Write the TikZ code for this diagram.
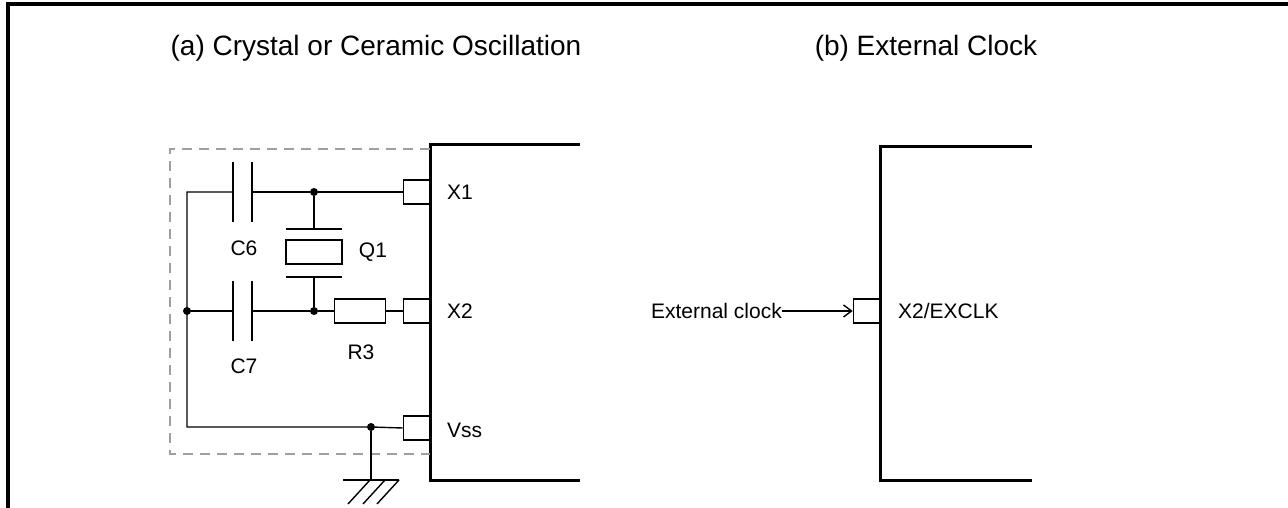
\documentclass[tikz,border=0pt]{standalone}
\usepackage{fontspec}
\setmainfont{Liberation Sans}
\usetikzlibrary{arrows.meta,positioning}
\tikzset{
  chip/.style={line width=3pt},
  wire/.style={line width=1.4pt},
  plate/.style={line width=1.9pt},
  pinbox/.style={draw, line width=1.3pt, minimum width=26pt, minimum height=24pt, inner sep=0pt},
  part/.style={draw, line width=1.8pt, minimum height=24pt, inner sep=0pt},
  dot/.style={circle, fill, inner sep=0pt, minimum size=8pt},
  lbl/.style={font=\fontsize{21}{21}\selectfont, inner sep=0pt},
  ttl/.style={font=\fontsize{28}{28}\selectfont, inner sep=0pt},
}
\begin{document}
\begin{tikzpicture}[x=1pt,y=-1pt]
\useasboundingbox (0,0) rectangle (1288,508);
% frame
\draw[line width=3.2pt] (8,508) -- (8,4) -- (1288,4);
\node[ttl] (ta) at (376,48) {(a) Crystal or Ceramic Oscillation};
\node[ttl] (tb) at (926,48) {(b) External Clock};

% (a) chip and pins
\draw[chip] (580,145) -- (430,145) -- (430,480) -- (580,480);
\node[pinbox, anchor=east] (px1) at (430,192) {};
\node[pinbox, anchor=east] (px2) at (430,311) {};
\node[pinbox, anchor=east] (pvss) at (430,428) {};
\node[lbl, anchor=west] (lx1) at (447,192) {X1};
\node[lbl, anchor=west] (lx2) at (447,311) {X2};
\node[lbl, anchor=west] (lvss) at (447,430) {Vss};

% dashed frame
\draw[gray!75, line width=1.7pt, dash pattern=on 10pt off 7pt] (430,149) -- (170,149) -- (170,454) -- (430,454);

% junctions
\coordinate (nw) at (187,192);
\coordinate (sw) at (187,427);
\node[dot] (jl) at (187,311) {};
\node[dot] (jq1) at (314,192) {};
\node[dot] (jq2) at (314,311) {};
\node[dot] (jg) at (371,427) {};

% capacitors
\coordinate (c6a) at (233,192); \coordinate (c6b) at (252,192);
\coordinate (c7a) at (233,311); \coordinate (c7b) at (252,311);
\foreach \c in {c6a,c6b,c7a,c7b}
  \draw[plate] ([yshift=30pt]\c) -- ([yshift=-30pt]\c);
\node[lbl] (lc6) at (244,248) {C6};
\node[lbl] (lc7) at (244,366) {C7};

% crystal
\node[part, minimum width=56pt] (q1) at (314,252) {};
\coordinate (q1t) at (314,229); \coordinate (q1b) at (314,277);
\draw[plate] ([xshift=-28pt]q1t) -- ([xshift=28pt]q1t);
\draw[plate] ([xshift=-28pt]q1b) -- ([xshift=28pt]q1b);
\node[lbl] (lq1) at (373,252) {Q1};

% resistor
\node[part, minimum width=51pt] (r3) at (360,311) {};
\node[lbl] (lr3) at (361,352) {R3};

% wiring
\draw[wire] (px1.west) -- (jq1) -- (c6b);
\draw[wire] (c6a) -- (nw) -- (sw) -- (jg) -- (pvss.west);
\draw[wire] (jl) -- (c7a);
\draw[wire] (c7b) -- (jq2) -- (r3.west);
\draw[wire] (r3.east) -- (px2.west);
\draw[wire] (jq1) -- (q1t);
\draw[wire] (jq2) -- (q1b);

% ground
\coordinate (gnd) at (371,480);
\draw[wire] (jg) -- (gnd);
\draw[plate] ([xshift=-28pt]gnd) -- ([xshift=28pt]gnd);
\foreach \x in {-1,14,28}
  \draw[wire] ([xshift=\x pt]gnd) -- ++(-22,24);

% (b) chip and pin
\draw[chip] (1032,147) -- (880,147) -- (880,480) -- (1032,480);
\node[pinbox, anchor=east] (pb) at (880,311) {};
\node[lbl, anchor=west] (lb) at (898,311) {X2/EXCLK};
\node[lbl, anchor=east] (ext) at (782,311) {External clock};
\draw[wire, -{Straight Barb[length=8pt,width=12pt]}] (ext.east) -- (pb.west);
\end{tikzpicture}
\end{document}
